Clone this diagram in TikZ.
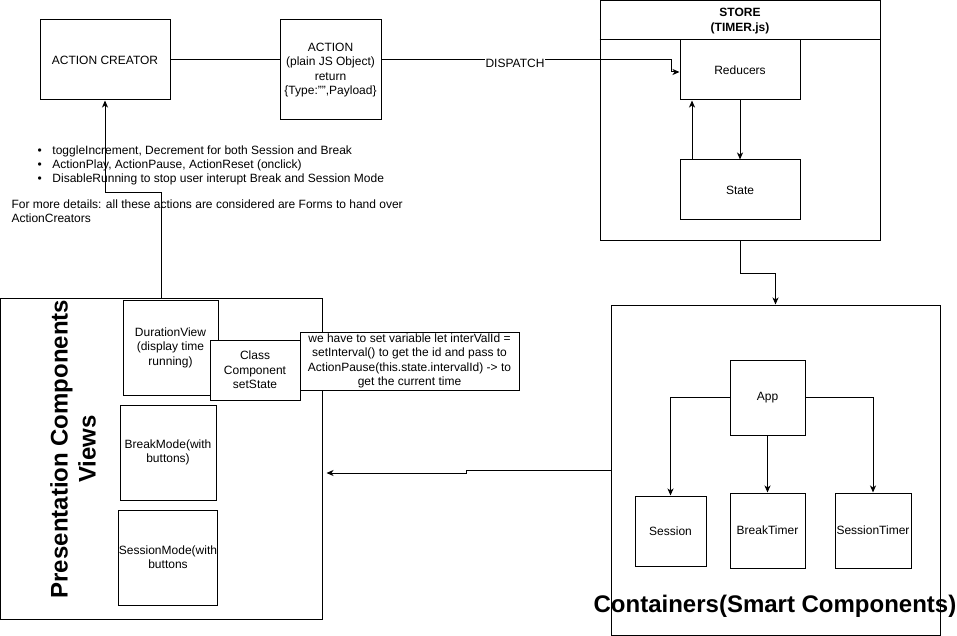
\documentclass[tikz,border=0pt]{standalone}
\usepackage{fontspec}
\setmainfont{Liberation Sans}
\usetikzlibrary{arrows.meta,calc}
\begin{document}
\begin{tikzpicture}[x=1pt,y=-1pt,line width=1pt,
  font=\fontsize{12}{14.4}\selectfont,
  bx/.style={draw,fill=white,inner sep=1pt,align=center},
  arr/.style={-{Stealth[length=7pt,width=6pt,inset=2pt]}},
  bigtitle/.style={font=\fontsize{24}{28}\selectfont\bfseries,align=center}]
\useasboundingbox (0,0) rectangle (957,636);

% ---------- top row ----------
\node[bx,minimum width=130pt,minimum height=80pt] (AC) at (105,60) {ACTION CREATOR};
\node[bx,minimum width=101pt,minimum height=100pt] (ACT) at (330.5,70)
  {ACTION\\(plain JS Object)\\return\\\{Type:"",Payload\}};

% ---------- store ----------
\node[draw,minimum width=280pt,minimum height=239pt,inner sep=0pt] (STORE) at (740,120.5) {};
\draw (STORE.north west) ++(0,39.5) coordinate (HL) -- (HL -| STORE.east);
\node[font=\fontsize{12}{14.4}\selectfont\bfseries,align=center] (STH) at (740,21) {STORE\\(TIMER.js)};
\node[bx,minimum width=120pt,minimum height=60pt] (RED) at (740,70) {Reducers};
\node[bx,minimum width=120pt,minimum height=60pt] (STATE) at (740,190) {State};

% ---------- containers ----------
\node[draw,minimum width=329pt,minimum height=330pt,inner sep=0pt] (CONT) at (775.5,470) {};
\node[bx,minimum width=75pt,minimum height=75pt] (APP) at (767.5,397.5) {App};
\node[bx,minimum width=71pt,minimum height=70pt] (SES) at (670.5,531) {Session};
\node[bx,minimum width=75pt,minimum height=75pt] (BRK) at (767.5,530.5) {BreakTimer};
\node[bx,minimum width=76pt,minimum height=75pt,inner sep=0pt] (STM) at (873,530.5) {SessionTimer};
\node[bigtitle] (CTT) at (775,606) {Containers(Smart Components)};

% ---------- presentation ----------
\node[draw,minimum width=321.5pt,minimum height=321pt,inner sep=0pt] (PRES) at (161.25,458.5) {};
\node[bigtitle,rotate=90] (PTT) at (73,449) {Presentation Components\\Views};
\node[bx,minimum width=95pt,minimum height=95pt] (DV) at (170.5,347.5) {DurationView\\(display time\\running)};
\node[bx,minimum width=90pt,minimum height=60pt] (CC) at (255,370) {Class\\Component\\setState};
\node[bx,minimum width=219pt,minimum height=58pt] (NOTE) at (409.5,361)
  {we have to set variable let interValId =\\setInterval() to get the id and pass to\\ActionPause(this.state.intervalId) -> to\\get the current time};
\node[bx,minimum width=96pt,minimum height=95pt] (BM) at (168,452.5) {BreakMode(with\\buttons)};
\node[bx,minimum width=96pt,minimum height=95pt,inner sep=0pt] (SM) at (168,557.5) {SessionMode(with\\buttons};

% ---------- free texts ----------
\node[anchor=north west,align=left,inner sep=0pt] (BUL) at (37,145)
  {\makebox[15pt][l]{\textbullet}toggleIncrement, Decrement for both Session and Break\\
   \makebox[15pt][l]{\textbullet}ActionPlay, ActionPause, ActionReset (onclick)\\
   \makebox[15pt][l]{\textbullet}DisableRunning to stop user interupt Break and Session Mode};
\node[anchor=north west,align=left,inner sep=0pt] (MORE) at (11,199)
  {For more details: all these actions are considered are Forms to hand over\\ActionCreators};

% ---------- connectors ----------
\draw (AC.east) -- (AC.east -| ACT.west);
\draw[arr] (ACT.east |- AC.east) -- (671,60) |- ([yshift=-2pt]RED.west);
\node[fill=white,inner sep=1pt] (DISP) at (515,63) {DISPATCH};
\draw[arr] (RED.south) -- (STATE.north);
\draw[arr] ([xshift=-48pt]STATE.north) -- ([xshift=-48pt]RED.south);
\draw[arr] (STORE.south) -- ++(0,33) -| (CONT.north);
\draw[arr] (APP.west) -| (SES.north);
\draw[arr] (APP.south) -- (BRK.north);
\draw[arr] (APP.east) -| (STM.north);
\draw[arr] (CONT.west) -- ++(-144,0) -- ++(0,3) -- ++(-140,0);
\draw[arr] (PRES.north) -- ++(0,-105) -| (AC.south);
\end{tikzpicture}
\end{document}
